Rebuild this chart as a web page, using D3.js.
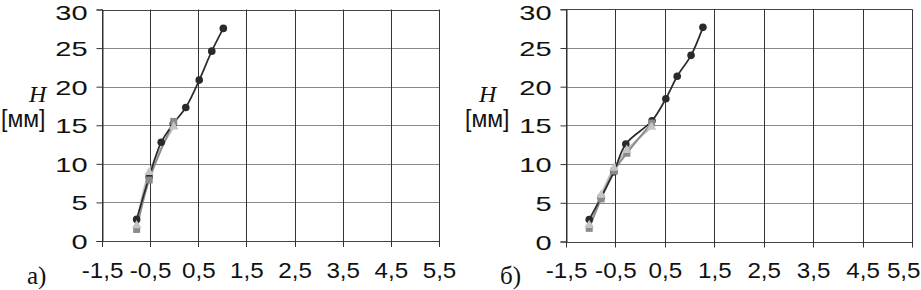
<!DOCTYPE html>
<html><head><meta charset="utf-8">
<script src="https://cdn.jsdelivr.net/npm/d3@7"></script>
<style>body{margin:0;background:#fff}svg{display:block}</style>
</head><body>
<svg id="c" width="921" height="290"></svg>
<script>
// ---- data ----
const xTickValues = [-1.5, -0.5, 0.5, 1.5, 2.5, 3.5, 4.5, 5.5];
const xTickLabels = ["-1,5", "-0,5", "0,5", "1,5", "2,5", "3,5", "4,5", "5,5"];
const yTickValues = [0, 5, 10, 15, 20, 25, 30];
const panelLabels = ["а)", "б)"];
const axisTitle = "H";
const axisUnit = "[мм]";

// panel а
const aDarkX = [-0.78, -0.52, -0.27, -0.02, 0.24, 0.52, 0.78, 1.02];
const aDarkY = [2.8, 8.3, 12.8, 15.2, 17.3, 20.85, 24.6, 27.55];
const aSquareX = [-0.78, -0.52, -0.01];
const aSquareY = [1.5, 7.9, 15.5];
const aTriX = [-0.78, -0.52, -0.01];
const aTriY = [2.0, 8.9, 14.8];

// panel б
const bDarkX = [-1.03, -0.79, -0.53, -0.29, 0.24, 0.52, 0.75, 1.03, 1.27];
const bDarkY = [2.85, 5.7, 9.0, 12.6, 15.6, 18.45, 21.35, 24.05, 27.67];
const bSquareX = [-1.03, -0.79, -0.53, -0.27, 0.23];
const bSquareY = [1.7, 5.5, 9.1, 11.4, 15.3];
const bTriX = [-1.03, -0.79, -0.53, -0.27, 0.23];
const bTriY = [2.1, 6.0, 9.5, 11.8, 14.8];

// ---- drawing ----
const svg = d3.select("#c");
const W = 921;
const panels = [
  {x0: 102, x1: 439, y0: 241, y1: 9.5, lab: panelLabels[0], labX: 27, titleX: 29, unitX: 1,
   dark: [aDarkX, aDarkY], sq: [aSquareX, aSquareY], tri: [aTriX, aTriY]},
  {x0: 566, x1: 912, y0: 241.5, y1: 9.3, lab: panelLabels[1], labX: 500, titleX: 479, unitX: 465,
   dark: [bDarkX, bDarkY], sq: [bSquareX, bSquareY], tri: [bTriX, bTriY]}
];
const sans = "Liberation Sans, Arial, sans-serif";
const serif = "Liberation Serif, Times New Roman, serif";

panels.forEach(p => {
  const x = d3.scaleLinear().domain([-1.5, 5.5]).range([p.x0, p.x1]);
  const y = d3.scaleLinear().domain([0, 30]).range([p.y0, p.y1]);
  const g = svg.append("g");

  // horizontal gridlines
  g.selectAll(".hg").data(yTickValues).join("line")
    .attr("x1", p.x0).attr("x2", p.x1)
    .attr("y1", d => Math.round(y(d)) + 0.5).attr("y2", d => Math.round(y(d)) + 0.5)
    .attr("stroke", d => (d === 0 || d === 30) ? "#444" : "#888").attr("stroke-width", 1.2);
  // vertical gridlines
  g.selectAll(".vg").data(xTickValues).join("line")
    .attr("x1", d => Math.round(x(d)) + 0.5).attr("x2", d => Math.round(x(d)) + 0.5)
    .attr("y1", y(30)).attr("y2", y(0) + 6)
    .attr("stroke", "#333").attr("stroke-width", 1);

  // y axis (ticks and labels)
  const ya = g.append("g").attr("transform", `translate(${Math.round(p.x0) + 0.5},0)`)
    .call(d3.axisLeft(y).tickValues(yTickValues).tickSize(6).tickPadding(14).tickFormat(d3.format("d")));
  ya.select(".domain").attr("stroke", "#333");
  ya.selectAll(".tick line").attr("stroke", "#333");
  ya.selectAll("text").attr("font-family", sans)
    .attr("font-size", 21).attr("fill", "#111").attr("dy", "0.36em")
    .attr("x", 0)
    .attr("transform", d => `translate(-15,${d === 30 ? 2.5 : 0}) scale(1.38,1)`);

  // x axis labels
  const xa = g.append("g").attr("transform", `translate(0,${p.y0})`)
    .call(d3.axisBottom(x).tickValues(xTickValues).tickSize(0).tickPadding(21)
      .tickFormat((d, i) => xTickLabels[i]));
  xa.select(".domain").remove();
  xa.selectAll("text").attr("font-family", sans)
    .attr("font-size", 22).attr("fill", "#111")
    .attr("transform", "scale(1.1,1)")
    .each(function(d) {
      const bb = this.getBBox();
      const right = x(d) + bb.width * 1.1 / 2;
      if (right > W - 1) d3.select(this).attr("x", (W - 1 - right) / 1.1);
    });

  // series
  const line = d3.line().x(d => x(d[0])).y(d => y(d[1])).curve(d3.curveCatmullRom.alpha(0.5));
  const pts = arr => arr[0].map((v, i) => [v, arr[1][i]]);

  g.append("path").datum(pts(p.tri)).attr("d", line).attr("fill", "none")
    .attr("stroke", "#bdbdbd").attr("stroke-width", 2);
  g.append("path").datum(pts(p.sq)).attr("d", line).attr("fill", "none")
    .attr("stroke", "#8a8a8a").attr("stroke-width", 1.8);
  g.append("path").datum(pts(p.dark)).attr("d", line).attr("fill", "none")
    .attr("stroke", "#2a2a2a").attr("stroke-width", 1.7);

  g.selectAll(".dk").data(pts(p.dark)).join("circle")
    .attr("cx", d => x(d[0])).attr("cy", d => y(d[1])).attr("r", 3.8).attr("fill", "#2a2a2a");
  g.selectAll(".sq").data(pts(p.sq)).join("rect")
    .attr("x", d => x(d[0]) - 3.5).attr("y", d => y(d[1]) - 3.5)
    .attr("width", 7).attr("height", 7).attr("fill", "#8a8a8a");
  const tri = d3.symbol().type(d3.symbolTriangle).size(40);
  g.selectAll(".tr").data(pts(p.tri)).join("path")
    .attr("transform", d => `translate(${x(d[0])},${y(d[1])})`)
    .attr("d", tri).attr("fill", "#c4c4c4");

  // titles
  g.append("text").attr("x", p.titleX).attr("y", 102).text(axisTitle)
    .attr("font-family", serif).attr("font-style", "italic")
    .attr("font-size", 24).attr("fill", "#111");
  g.append("text").attr("x", p.unitX).attr("y", 127).text(axisUnit)
    .attr("font-family", sans)
    .attr("font-size", 23).attr("fill", "#111");
  g.append("text").attr("x", p.labX).attr("y", 284).text(p.lab)
    .attr("font-family", serif)
    .attr("font-size", 25).attr("fill", "#111");
});
</script>
</body></html>
